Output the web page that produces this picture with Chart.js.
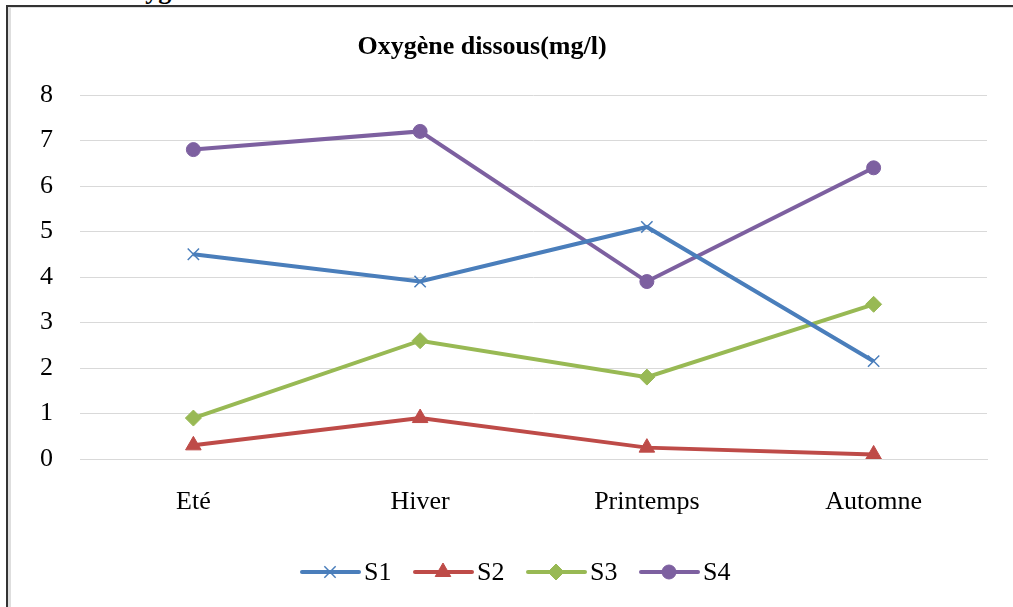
<!DOCTYPE html>
<html>
<head>
<meta charset="utf-8">
<script src="https://cdn.jsdelivr.net/npm/chart.js@4/dist/chart.umd.min.js"></script>
<style>
  html, body { margin: 0; padding: 0; background: #fff; overflow: hidden; }
  #wrap { position: relative; width: 1013px; height: 607px; }
  #frame {
    position: absolute; left: 6px; top: 5px; width: 1013px; height: 610px;
    border-top: 2px solid #333; border-left: 2px solid #333;
    box-shadow: inset 3px 1px 0 #dedede;
  }
  #cut {
    position: absolute; left: 112px; top: -24px;
    font: bold 26px "Liberation Serif", serif; color: #000;
  }
  canvas { position: absolute; left: 0; top: 0; }
</style>
</head>
<body>
<div id="wrap">
  <div id="cut">Oxygène dissous</div>
  <div id="frame"></div>
  <canvas id="chart" width="1013" height="607"></canvas>
</div>
<script>
// saisons
const seasons = ["Eté", "Hiver", "Printemps", "Automne"];
// oxygène dissous (mg/l) par station
const s1 = [4.5, 3.9, 5.1, 2.15];
const s2 = [0.3, 0.9, 0.25, 0.1];
const s3 = [0.9, 2.6, 1.8, 3.4];
const s4 = [6.8, 7.2, 3.9, 6.4];
const seriesNames = ["S1", "S2", "S3", "S4"];

const serif = "'Liberation Serif', 'Times New Roman', serif";

function serie(label, data, color, style, radius, bw) {
  return {
    label: label,
    data: data,
    borderColor: color,
    backgroundColor: color,
    borderWidth: 4,
    tension: 0,
    fill: false,
    pointStyle: style,
    pointRadius: radius,
    pointHoverRadius: radius,
    pointBorderWidth: bw,
    pointBorderColor: color,
    pointBackgroundColor: color,
  };
}

// title + legend drawn by hand (Excel style: line with marker)
const decor = {
  id: "decor",
  afterDraw(chart) {
    const ctx = chart.ctx;
    ctx.save();
    ctx.fillStyle = "#000";
    ctx.textAlign = "center";
    ctx.textBaseline = "middle";
    ctx.font = "bold 26px " + serif;
    ctx.fillText("Oxygène dissous(mg/l)", 482, 47);

    ctx.font = "26px " + serif;
    ctx.textAlign = "left";
    let x = 302;
    const y = 572;
    chart.data.datasets.forEach((ds) => {
      ctx.strokeStyle = ds.borderColor;
      ctx.lineWidth = 4;
      ctx.lineCap = "round";
      ctx.beginPath();
      ctx.moveTo(x, y);
      ctx.lineTo(x + 57, y);
      ctx.stroke();
      ctx.fillStyle = ds.backgroundColor;
      ctx.lineWidth = ds.pointBorderWidth;
      ctx.lineCap = "butt";
      Chart.helpers.drawPoint(ctx, {
        pointStyle: ds.pointStyle,
        radius: ds.pointRadius,
        borderWidth: ds.pointBorderWidth,
        rotation: 0,
      }, x + 28, y);
      ctx.fillStyle = "#000";
      ctx.fillText(ds.label, x + 62, y + 1);
      x += 113;
    });
    ctx.restore();
  },
};

new Chart(document.getElementById("chart"), {
  type: "line",
  data: {
    labels: seasons,
    datasets: [
      serie(seriesNames[0], s1, "#4A7EBB", "crossRot", 8, 1.5),
      serie(seriesNames[1], s2, "#BE4B48", "triangle", 9, 1),
      serie(seriesNames[2], s3, "#98B954", "rectRot", 8, 1),
      serie(seriesNames[3], s4, "#7D60A0", "circle", 7, 1),
    ],
  },
  options: {
    responsive: false,
    animation: false,
    layout: { padding: { top: 95, right: 26, bottom: 88, left: 0 } },
    plugins: {
      legend: { display: false },
      title: { display: false },
      tooltip: { enabled: false },
    },
    scales: {
      x: {
        offset: true,
        grid: { display: false, drawTicks: false },
        border: { display: true, color: "#d9d9d9", width: 1 },
        ticks: { color: "#000", font: { family: serif, size: 26 }, padding: 28, maxRotation: 0 },
        afterFit: (s) => { s.height = 60; },
      },
      y: {
        min: 0,
        max: 8,
        ticks: { stepSize: 1, color: "#000", font: { family: serif, size: 26 }, padding: 27 },
        grid: { color: "#d9d9d9", lineWidth: 1, drawTicks: false },
        border: { display: false },
        afterFit: (s) => { s.width = 80; },
      },
    },
  },
  plugins: [decor],
});
</script>
</body>
</html>
